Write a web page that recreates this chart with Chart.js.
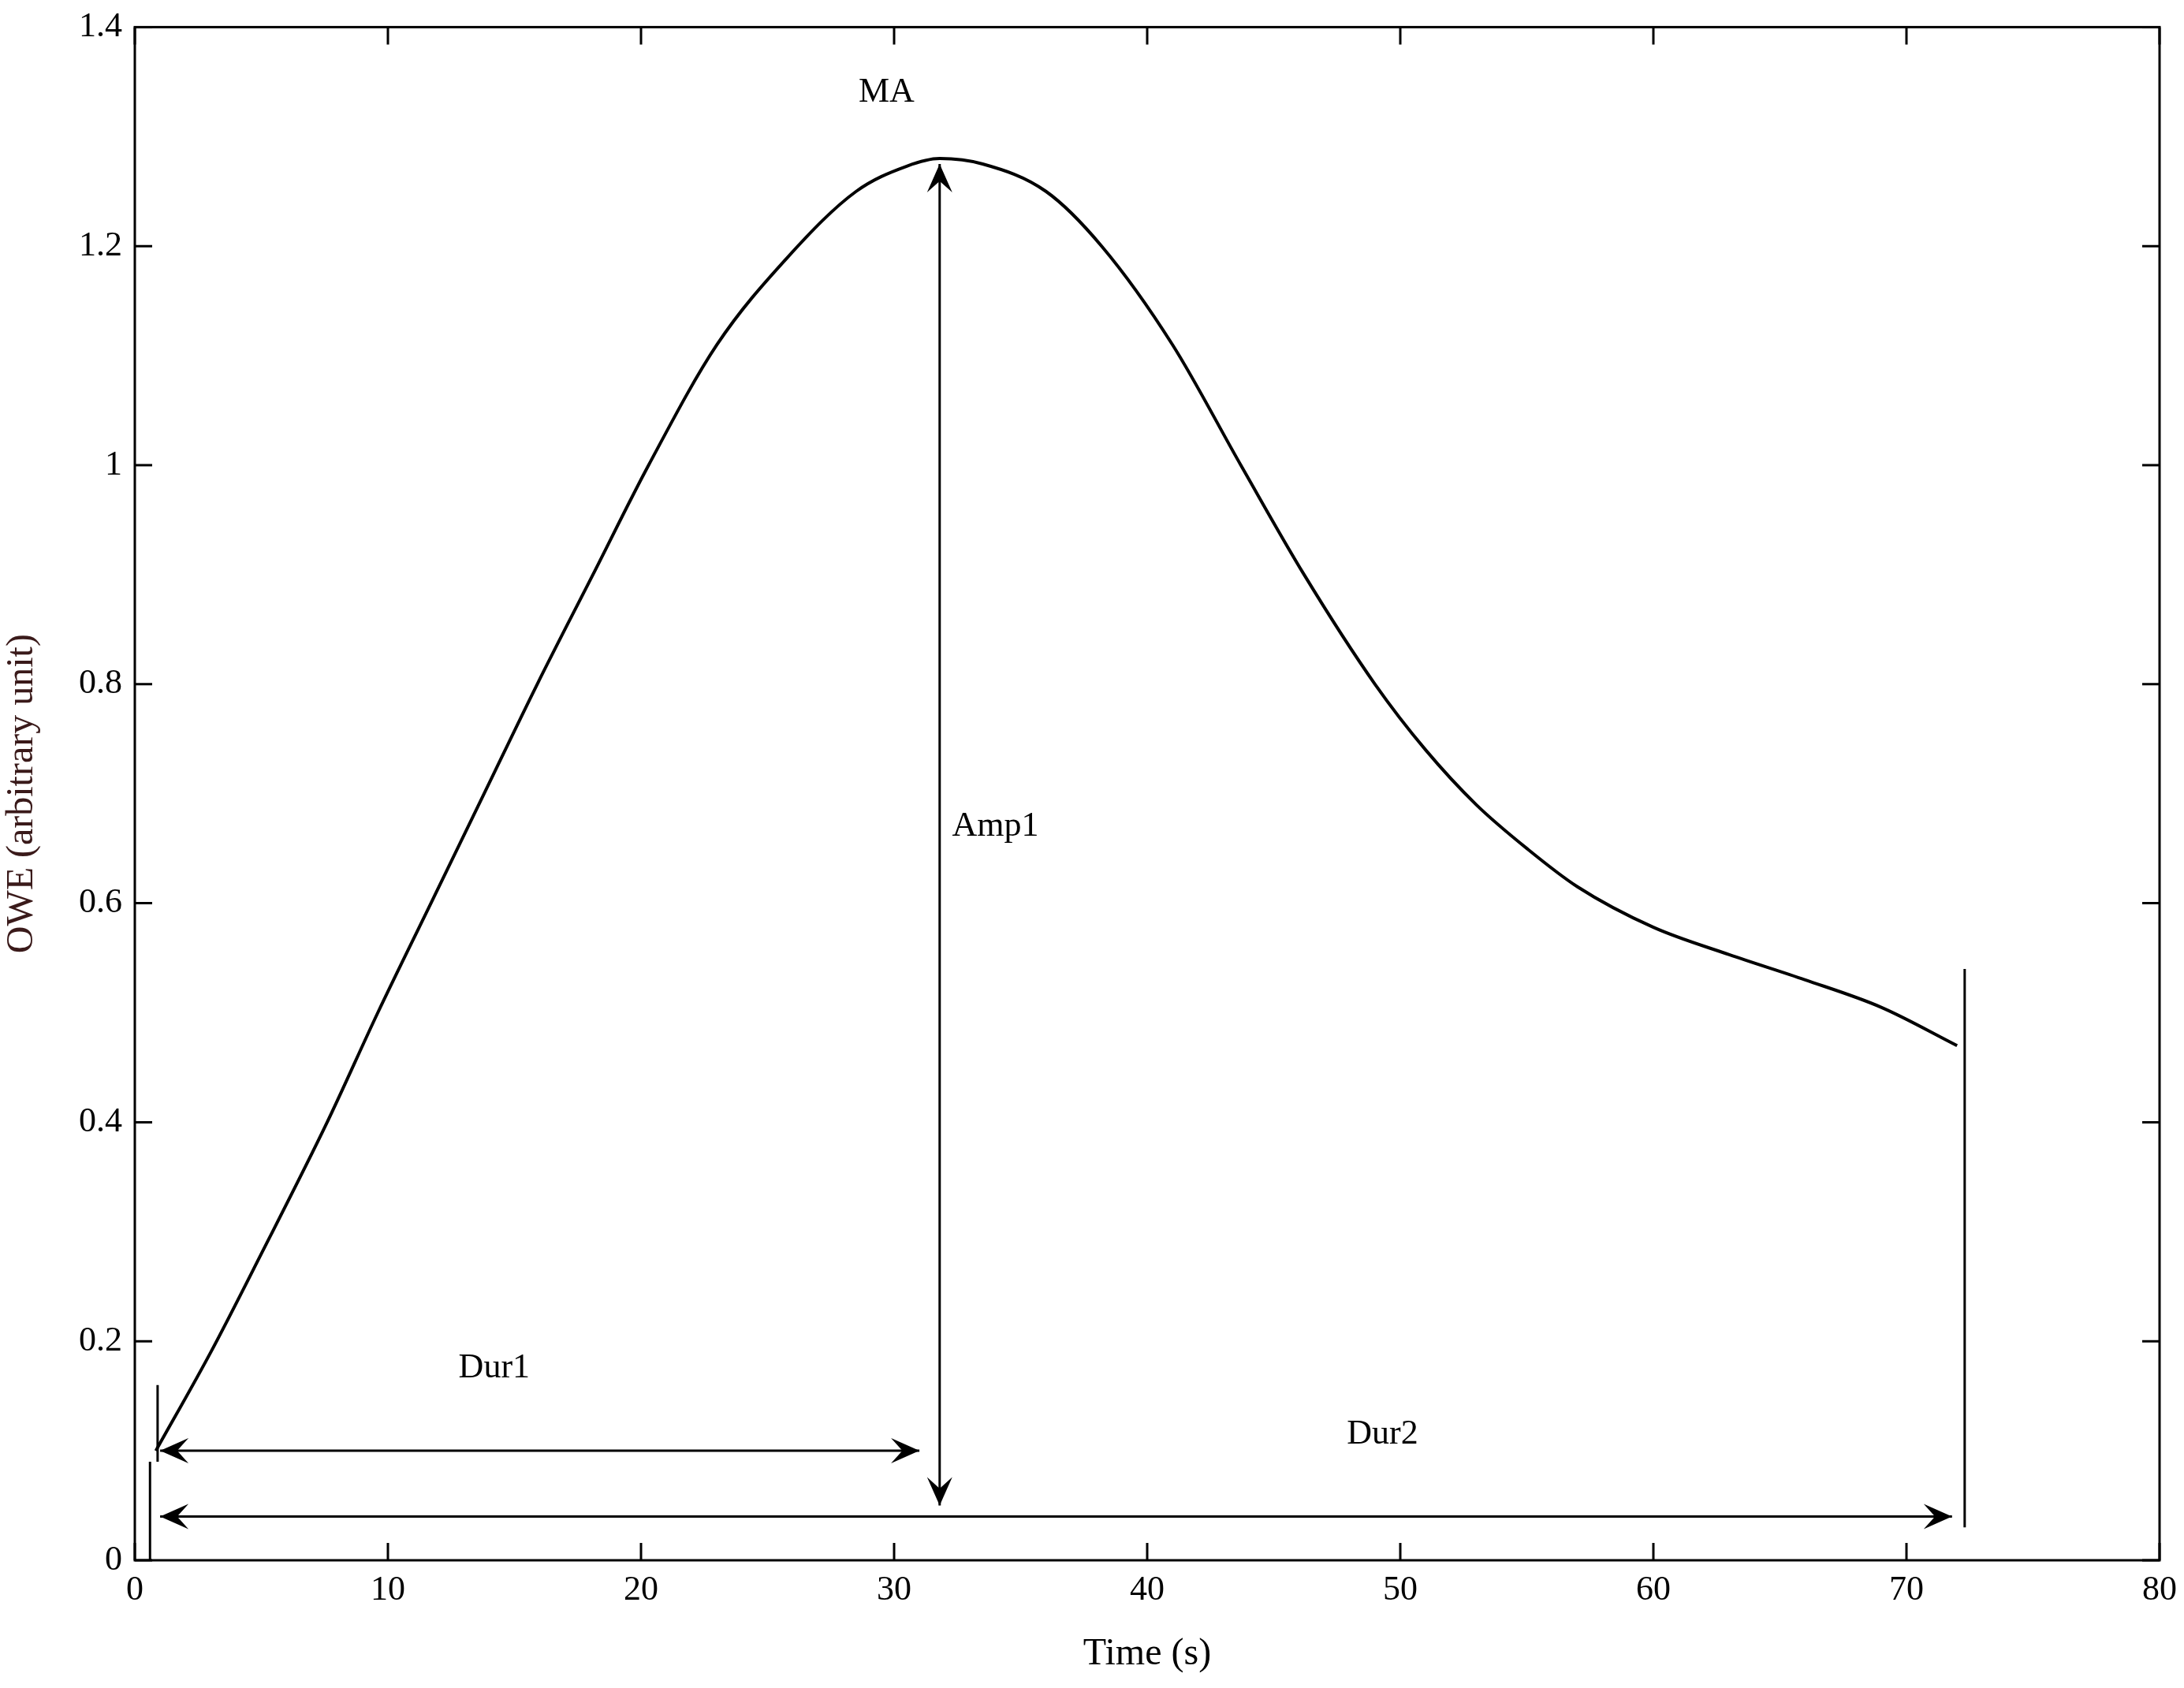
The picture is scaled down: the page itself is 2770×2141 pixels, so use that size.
<!DOCTYPE html>
<html>
<head>
<script src="https://cdn.jsdelivr.net/npm/chart.js@4"></script>
<style>body{margin:0;background:#fff}</style>
</head>
<body>
<div style="width:2770px;height:2141px"><canvas id="c"></canvas></div>
<script>
const timeS = [0.83, 3, 5, 7.6, 9.6, 11.7, 13.8, 15.9, 18.1, 20.3, 23, 25.8, 28.5, 30.5, 31.8, 33.5, 36, 38.2, 41, 43.7, 46.2, 49.0, 51, 53, 55, 57, 60, 63, 66, 69, 72];
const owe = [0.10, 0.19, 0.28, 0.40, 0.50, 0.60, 0.70, 0.80, 0.90, 1.00, 1.11, 1.19, 1.25, 1.273, 1.28, 1.275, 1.25, 1.20, 1.11, 1.00, 0.90, 0.80, 0.74, 0.69, 0.65, 0.615, 0.578, 0.553, 0.53, 0.505, 0.47];
const xTicks = [0, 10, 20, 30, 40, 50, 60, 70, 80];
const yTicks = [0, 0.2, 0.4, 0.6, 0.8, 1, 1.2, 1.4];
const labels = [['MA', 29.7, 1.34], ['Dur1', 14.2, 0.175], ['Dur2', 49.3, 0.115], ['Amp1', 34, 0.67]];
// [x1, y1, x2, y2, arrowAtStart, arrowAtEnd]
const marks = [
  [0.6, 0.0, 0.6, 0.09, false, false],
  [0.9, 0.09, 0.9, 0.16, false, false],
  [72.3, 0.03, 72.3, 0.54, false, false],
  [1.0, 0.10, 31.0, 0.10, true, true],
  [1.0, 0.04, 71.8, 0.04, true, true],
  [31.8, 0.05, 31.8, 1.275, true, true]
];
const FONT = '44px "Liberation Serif"';

function arrowHead(ctx, x, y, ang) {
  const L = 36, W = 16;
  ctx.beginPath();
  ctx.moveTo(x, y);
  ctx.lineTo(x - L * Math.cos(ang) + W * Math.sin(ang), y - L * Math.sin(ang) - W * Math.cos(ang));
  ctx.lineTo(x - L * 0.6 * Math.cos(ang), y - L * 0.6 * Math.sin(ang));
  ctx.lineTo(x - L * Math.cos(ang) - W * Math.sin(ang), y - L * Math.sin(ang) + W * Math.cos(ang));
  ctx.closePath();
  ctx.fill();
}

const overlay = {
  id: 'overlay',
  afterDraw(chart) {
    const { ctx, chartArea: a, scales: { x, y } } = chart;
    ctx.save();
    ctx.strokeStyle = '#000';
    ctx.fillStyle = '#000';
    ctx.lineWidth = 3;
    ctx.strokeRect(a.left, a.top, a.right - a.left, a.bottom - a.top);
    const t = 22;
    ctx.beginPath();
    xTicks.forEach(v => {
      const px = x.getPixelForValue(v);
      ctx.moveTo(px, a.bottom); ctx.lineTo(px, a.bottom - t);
      ctx.moveTo(px, a.top); ctx.lineTo(px, a.top + t);
    });
    yTicks.forEach(v => {
      const py = y.getPixelForValue(v);
      ctx.moveTo(a.left, py); ctx.lineTo(a.left + t, py);
      ctx.moveTo(a.right, py); ctx.lineTo(a.right - t, py);
    });
    ctx.stroke();
    marks.forEach(([x1, y1, x2, y2, s, e]) => {
      const p1 = [x.getPixelForValue(x1), y.getPixelForValue(y1)];
      const p2 = [x.getPixelForValue(x2), y.getPixelForValue(y2)];
      ctx.beginPath(); ctx.moveTo(p1[0], p1[1]); ctx.lineTo(p2[0], p2[1]); ctx.stroke();
      const ang = Math.atan2(p2[1] - p1[1], p2[0] - p1[0]);
      if (e) arrowHead(ctx, p2[0], p2[1], ang);
      if (s) arrowHead(ctx, p1[0], p1[1], ang + Math.PI);
    });
    ctx.font = FONT;
    ctx.textAlign = 'center';
    ctx.textBaseline = 'middle';
    labels.forEach(([txt, lx, ly]) => ctx.fillText(txt, x.getPixelForValue(lx), y.getPixelForValue(ly)));
    ctx.restore();
  }
};

new Chart(document.getElementById('c'), {
  type: 'scatter',
  data: {
    datasets: [{
      data: timeS.map((t, i) => ({ x: t, y: owe[i] })),
      showLine: true,
      borderColor: '#000',
      borderWidth: 4,
      pointRadius: 0,
      cubicInterpolationMode: 'monotone'
    }]
  },
  options: {
    responsive: true,
    maintainAspectRatio: false,
    animation: false,
    layout: { padding: { top: 32, right: 31, bottom: 14 } },
    plugins: { legend: { display: false }, tooltip: { enabled: false } },
    scales: {
      x: {
        min: 0, max: 80,
        afterBuildTicks: s => { s.ticks = xTicks.map(v => ({ value: v })); },
        afterFit: s => { s.height = 148; },
        grid: { display: false },
        border: { display: false },
        ticks: { color: '#000', font: { family: 'Liberation Serif', size: 44 }, padding: 4, maxRotation: 0 },
        title: { display: true, text: 'Time (s)', color: '#000', font: { family: 'Liberation Serif', size: 48 }, padding: 0 }
      },
      y: {
        min: 0, max: 1.4,
        afterBuildTicks: s => { s.ticks = yTicks.map(v => ({ value: v })); },
        afterFit: s => { s.width = 171; },
        grid: { display: false },
        border: { display: false },
        ticks: { color: '#000', font: { family: 'Liberation Serif', size: 44 }, padding: 8, callback: v => String(Math.round(v * 10) / 10) },
        title: { display: true, text: 'OWE (arbitrary unit)', color: '#3a1a1a', font: { family: 'Liberation Serif', size: 48 }, padding: 0 }
      }
    }
  },
  plugins: [overlay]
});
</script>
</body>
</html>
